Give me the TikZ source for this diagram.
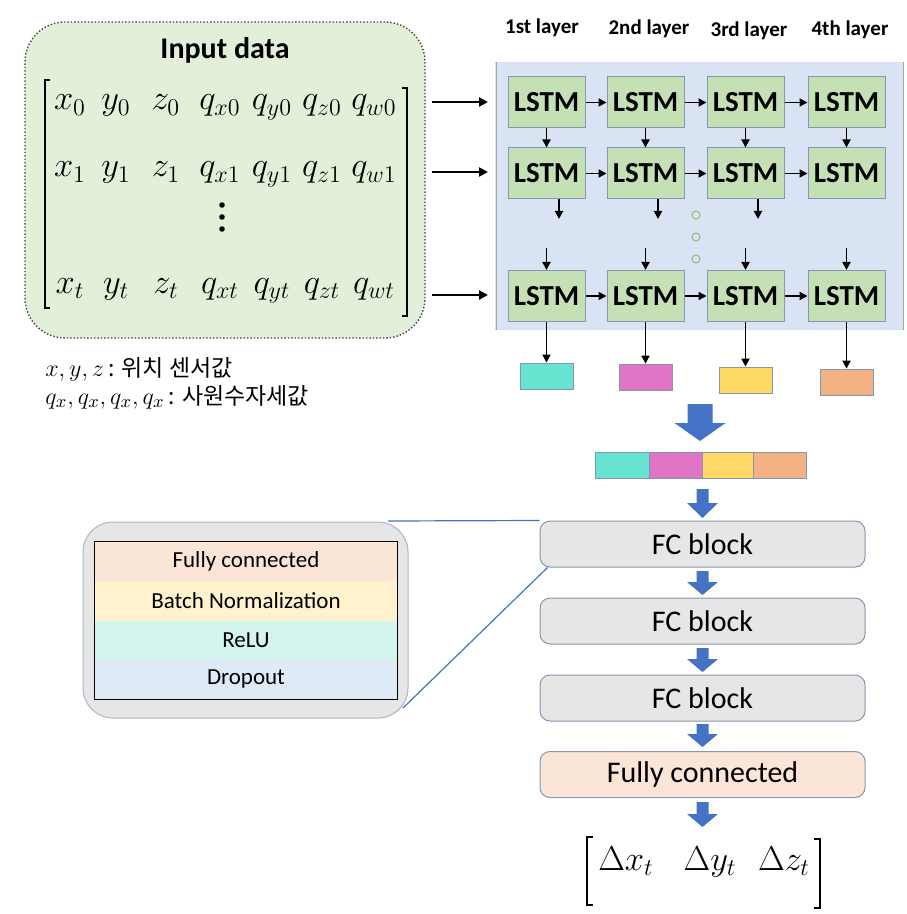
\documentclass[tikz,border=0pt]{standalone}
\usepackage{fontspec}
\setmainfont{Carlito}
\newfontfamily\kr{Noto Sans CJK KR}
\usetikzlibrary{arrows.meta,calc}
\definecolor{inputgreen}{HTML}{E2F0D9}
\definecolor{panelblue}{HTML}{DAE3F3}
\definecolor{panelline}{HTML}{A6A6A6}
\definecolor{lstmgreen}{HTML}{C5E0B4}
\definecolor{lstmborder}{HTML}{8497B0}
\definecolor{fcgray}{HTML}{E7E6E6}
\definecolor{fcborder}{HTML}{8497B0}
\definecolor{peach}{HTML}{FBE5D6}
\definecolor{bnyellow}{HTML}{FFF2CC}
\definecolor{relumint}{HTML}{D4F5EE}
\definecolor{dropblue}{HTML}{DEEBF7}
\definecolor{arrowblue}{HTML}{4472C4}
\definecolor{vcyan}{HTML}{66E3D1}
\definecolor{vmagenta}{HTML}{E075C8}
\definecolor{vyellow}{HTML}{FFD966}
\definecolor{vorange}{HTML}{F4B183}
\definecolor{dotgreen}{HTML}{70AD47}
\newcommand\myblkarrow[6]{\fill[arrowblue] ({#1-#5},#2) -- ({#1+#5},#2) -- ({#1+#5},#3) -- ({#1+#6},#3) -- (#1,#4) -- ({#1-#6},#3) -- ({#1-#5},#3) -- cycle;}
\begin{document}
\begin{tikzpicture}[x=0.5pt,y=-0.5pt,
  lstm/.style={draw=lstmborder, line width=0.5pt, fill=lstmgreen, minimum width=38.5pt, minimum height=25.5pt, inner sep=0pt, font=\fontsize{14.5}{16}\selectfont\bfseries},
  fcb/.style={draw=fcborder, line width=0.5pt, fill=fcgray, rounded corners=5pt, minimum width=162.5pt, minimum height=23pt, inner sep=0pt, font=\fontsize{15}{18}\selectfont},
  layerlab/.style={font=\fontsize{10.5}{12}\selectfont\bfseries},
  arr/.style={-{Triangle[length=4pt,width=4pt]}, line width=0.9pt},
  inarr/.style={-{Triangle[length=4.5pt,width=4.5pt]}, line width=1.3pt},
  mat/.style={font=\fontsize{16.5}{19}\selectfont, inner sep=0pt, anchor=base},
  vec/.style={draw=lstmborder, line width=0.4pt, minimum width=26.5pt, minimum height=13pt, inner sep=0pt},
  band/.style={minimum width=151pt, minimum height=19.6pt, inner sep=0pt, font=\fontsize{11.5}{13}\selectfont},
  bracket/.style={line width=0.6pt}
]
\useasboundingbox (0,0) rectangle (906,914);

% ---------- Input data ----------
\node[draw=black!75, densely dotted, line width=0.7pt, fill=inputgreen, rounded corners=20pt,
      minimum width=200pt, minimum height=158pt] (inbox) at (225,180) {};
\node[font=\fontsize{15}{18}\selectfont\bfseries] (intitle) at (225,50) {Input data};

% matrix brackets
\draw[bracket] (50,80) -- (45,80) -- (45,308) -- (50,308);
\draw[bracket] (402,88) -- (407,88) -- (407,316) -- (402,316);

\foreach \e/\xx [count=\i] in {x_0/70, y_0/116, z_0/166, q_{x0}/220, q_{y0}/272, q_{z0}/322, q_{w0}/374}
  \node[mat] (ra\i) at (\xx,110) {$\e$};
\foreach \e/\xx [count=\i] in {x_1/70, y_1/116, z_1/166, q_{x1}/220, q_{y1}/272, q_{z1}/322, q_{w1}/374}
  \node[mat] (rb\i) at (\xx,177) {$\e$};
\foreach \e/\xx [count=\i] in {x_t/70, y_t/116, z_t/166, q_{xt}/220, q_{yt}/272, q_{zt}/322, q_{wt}/374}
  \node[mat] (rc\i) at (\xx,293) {$\e$};
% vertical dots
\foreach \yy [count=\k] in {205,217,229}
  \fill (222,\yy) circle[radius=1.4pt];

% legend
\node[anchor=base west, inner sep=0pt] (leg1) at (45,376)
  {\fontsize{12.5}{15}\selectfont$x, y, z$\,{\kr\fontsize{11.5}{14}\selectfont : 위치 센서값}};
\node[anchor=base west, inner sep=0pt] (leg2) at (45,404)
  {\fontsize{12.5}{15}\selectfont$q_x, q_x, q_x, q_x$\,{\kr\fontsize{11.5}{14}\selectfont : 사원수자세값}};

% ---------- LSTM panel ----------
\fill[panelblue] (495,62) rectangle (903,330);
\draw[panelline, line width=0.5pt] (496,62) -- (496,330);
\draw[panelline, line width=0.5pt] (903,62) -- (903,330);

\node[layerlab] (lay1) at (542,28) {1st layer};
\node[layerlab] (lay2) at (649,29) {2nd layer};
\node[layerlab] (lay3) at (749,31) {3rd layer};
\node[layerlab] (lay4) at (850,30) {4th layer};

\foreach \xx [count=\j] in {546.5,645.5,745.5,846.5}{
  \node[lstm] (La\j) at (\xx,102.5) {LSTM};
  \node[lstm] (Lb\j) at (\xx,173.5) {LSTM};
  \node[lstm] (Lc\j) at (\xx,296) {LSTM};
}
\foreach \r in {a,b,c}{
  \draw[arr] (L\r1.east) -- (L\r2.west);
  \draw[arr] (L\r2.east) -- (L\r3.west);
  \draw[arr] (L\r3.east) -- (L\r4.west);
}
\foreach \j in {1,2,3,4}{
  \draw[arr] (La\j.south) -- (Lb\j.north);
}
% stubs below row 2 (three of them)
\foreach \j/\xx in {1/559,2/658,3/758}{
  \coordinate (sa\j) at (\xx,199);
  \coordinate (sb\j) at (\xx,219);
  \draw[arr] (sa\j) -- (sb\j);
}
% stubs above row 3
\foreach \j/\xx in {1/546.5,2/645.5,3/745.5,4/846.5}{
  \coordinate (tt\j) at (\xx,248);
  \draw[arr] (tt\j) -- (Lc\j.north);
}
% dots
\foreach \yy [count=\k] in {215,237,259}
  \node[circle, draw=dotgreen!80, fill=panelblue, line width=0.5pt, minimum size=4pt, inner sep=0pt] (dot\k) at (696,\yy) {};

% input arrows
\foreach \yy [count=\k] in {102,172,295}{
  \coordinate (ia\k) at (432,\yy);
  \coordinate (ib\k) at (488,\yy);
  \draw[inarr] (ia\k) -- (ib\k);
}

% ---------- output vectors ----------
\node[vec, fill=vcyan]    (o1) at (546.5,376) {};
\node[vec, fill=vmagenta] (o2) at (645.5,377) {};
\node[vec, fill=vyellow]  (o3) at (745.5,380) {};
\node[vec, fill=vorange]  (o4) at (846.5,382) {};
\foreach \j in {1,2,3,4}
  \draw[arr] (Lc\j.south) -- (o\j.north);

% big arrow
\myblkarrow{700}{404}{423}{441}{12.5}{25.5}

% concatenated bar
\node[vec, fill=vcyan,    minimum width=27pt]   (c1) at (622,465) {};
\node[vec, fill=vmagenta, minimum width=26.5pt] (c2) at (675.5,465) {};
\node[vec, fill=vyellow,  minimum width=25.5pt] (c3) at (727.5,465) {};
\node[vec, fill=vorange,  minimum width=26.5pt] (c4) at (779.5,465) {};

\myblkarrow{702.5}{489}{503}{518}{6}{15.5}

% ---------- FC blocks ----------
\node[fcb] (fc1) at (702.5,544) {FC block};
\node[fcb] (fc2) at (702.5,621) {FC block};
\node[fcb] (fc3) at (702.5,698) {FC block};
\node[fcb, fill=peach] (fcf) at (702.5,774.5) {Fully connected};

\myblkarrow{702.5}{571}{582}{595}{6}{15.5}
\myblkarrow{702.5}{648}{659}{672}{6}{15.5}
\myblkarrow{702.5}{724}{734}{747}{6}{15.5}
\myblkarrow{702.5}{802}{814}{827}{6}{15.5}

% output delta vector
\draw[bracket] (593,837) -- (587,837) -- (587,905) -- (593,905);
\draw[bracket] (814,839) -- (820,839) -- (820,908) -- (814,908);
\node[font=\fontsize{18}{22}\selectfont, inner sep=0pt, anchor=base] (dx) at (626,870) {$\Delta x_t$};
\node[font=\fontsize{18}{22}\selectfont, inner sep=0pt, anchor=base] (dy) at (710,870) {$\Delta y_t$};
\node[font=\fontsize{18}{22}\selectfont, inner sep=0pt, anchor=base] (dz) at (784,870) {$\Delta z_t$};

% ---------- zoom panel ----------
\node[draw=fcborder!70, line width=0.5pt, fill=fcgray, rounded corners=15pt,
      minimum width=162.5pt, minimum height=98pt] (zp) at (245.5,620) {};
\node[band, fill=peach]    (b1) at (246,561.6) {Fully connected};
\node[band, fill=bnyellow] (b2) at (246,600.9) {Batch Normalization};
\node[band, fill=relumint] (b3) at (246,640.1) {ReLU};
\node[band, fill=dropblue] (b4) at (246,679.4) {Dropout};
\draw[line width=0.6pt] (b1.north west) rectangle (b4.south east);

\coordinate (zt) at (388,521);
\coordinate (zb) at (403,708);
\draw[arrowblue, line width=0.6pt] (zt) -- (fc1.north west);
\draw[arrowblue, line width=0.6pt] (zb) -- ($(fc1.south west)+(8,0)$);
\end{tikzpicture}
\end{document}
